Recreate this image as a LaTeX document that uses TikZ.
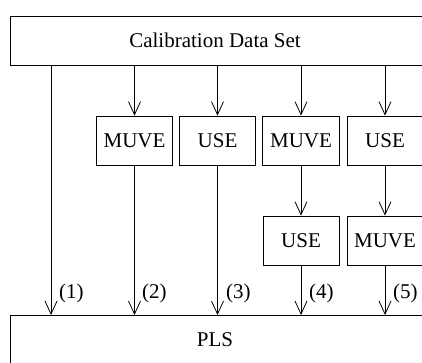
\documentclass[tikz,border=0pt]{standalone}
\usepackage{fontspec}
\setmainfont{Liberation Serif}
\usetikzlibrary{arrows.meta, positioning}

\begin{document}
\begin{tikzpicture}[
  x=1pt, y=-1pt,
  box/.style={draw, rectangle, line width=0.8pt, minimum width=76pt, minimum height=49pt, inner sep=0pt, font=\fontsize{21}{25}\selectfont},
  txt/.style={font=\fontsize{21}{25}\selectfont, inner sep=0pt},
  num/.style={font=\fontsize{21}{25}\selectfont, inner sep=0pt, anchor=base west},
  arrow/.style={-{Straight Barb[length=13pt, width=12pt]}, line width=0.8pt}
]
\useasboundingbox (0,0) rectangle (422,362);
\clip (0,0) rectangle (422,362);

% top and bottom bars
\node[box, anchor=north west, minimum width=460pt] (data) at (10,16) {};
\node[txt] (datatext) at (215,40.5) {Calibration Data Set};
\node[box, anchor=north west, minimum width=460pt, minimum height=50pt] (pls) at (10,315) {};
\node[txt] (plstext) at (215,340) {PLS};

% selection boxes
\coordinate (c1) at (51,140.5);
\node[box] (muveA) at (134.5,140.5) {MUVE};
\node[box] (useA) at (217.5,140.5) {USE};
\node[box, minimum width=77pt] (muveB) at (301,140.5) {MUVE};
\node[box] (useB) at (385,140.5) {USE};
\node[box] (useC) at (301,240.5) {USE};
\node[box] (muveC) at (385,240.5) {MUVE};

\draw[arrow] (data.south -| c1) -- (pls.north -| c1);
\draw[arrow] (data.south -| muveA) -- (muveA);
\draw[arrow] (data.south -| useA) -- (useA);
\draw[arrow] (data.south -| muveB) -- (muveB);
\draw[arrow] (data.south -| useB) -- (useB);

\draw[arrow] (muveA) -- (pls.north -| muveA);
\draw[arrow] (useA) -- (pls.north -| useA);
\draw[arrow] (muveB) -- (useC);
\draw[arrow] (useB) -- (muveC);
\draw[arrow] (useC) -- (pls.north -| useC);
\draw[arrow] (muveC) -- (pls.north -| muveC);

% path numbers
\node[num] (n1) at (59,298) {(1)};
\node[num] (n2) at (142,298) {(2)};
\node[num] (n3) at (226,298) {(3)};
\node[num] (n4) at (309,298) {(4)};
\node[num] (n5) at (393,298) {(5)};

\end{tikzpicture}
\end{document}
